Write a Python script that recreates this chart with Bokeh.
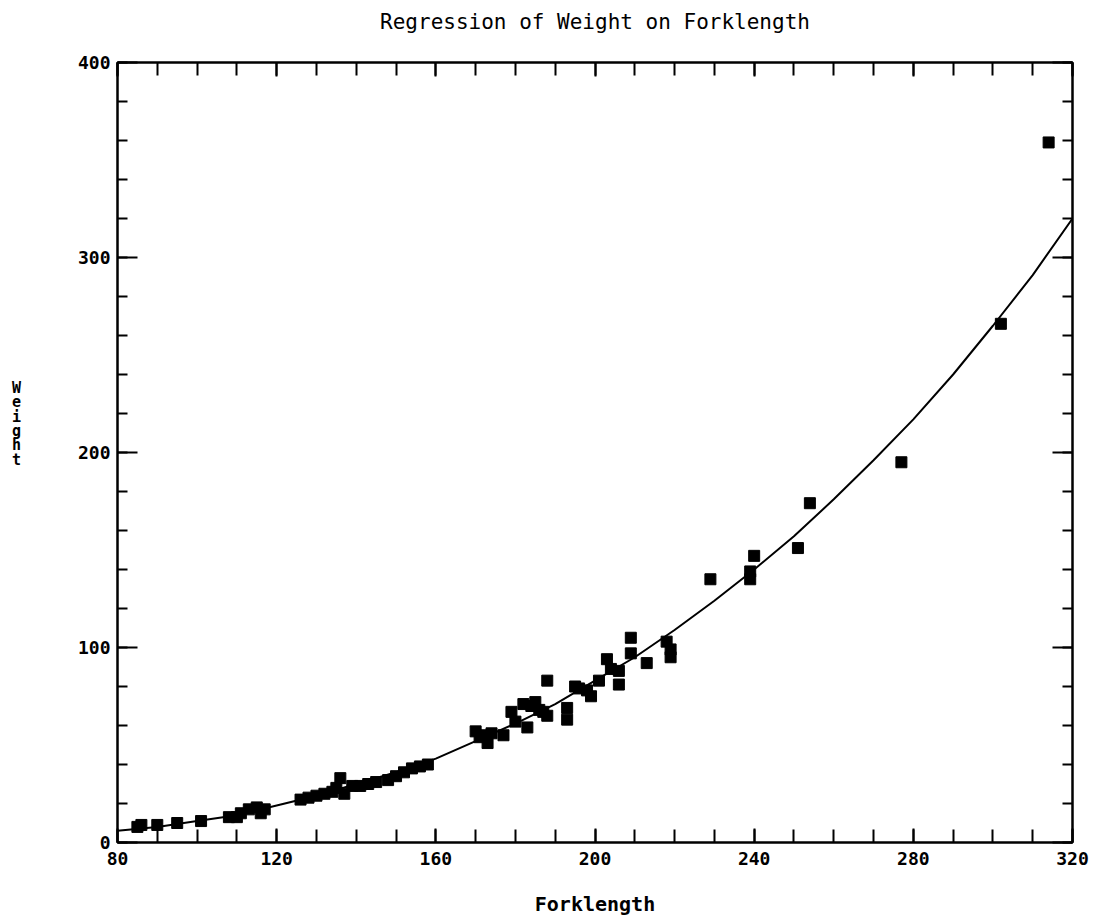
from bokeh.plotting import figure
from bokeh.models import (LinearAxis, Range1d, Title,
                          SingleIntervalTicker, ColumnDataSource)
from bokeh.embed import file_html
from bokeh.resources import INLINE

# ---- data ----
forklength = [85, 86, 90, 95, 101, 108, 110, 111, 113, 115, 116, 117,
              126, 128, 130, 132, 134, 135, 136, 137, 139, 141, 143, 145,
              148, 150, 152, 154, 156, 158,
              170, 171, 172, 173, 174, 177, 179, 180, 183, 182, 184, 185,
              186, 187, 188, 188, 193, 193, 195, 196, 198,
              199, 201, 203, 204, 206, 206, 209, 209, 213, 218, 219, 219,
              229, 239, 239, 240, 251, 254, 277, 302, 314]
weight = [8, 9, 9, 10, 11, 13, 13, 15, 17, 18, 15, 17,
          22, 23, 24, 25, 26, 28, 33, 25, 29, 29, 30, 31,
          32, 34, 36, 38, 39, 40,
          57, 54, 55, 51, 56, 55, 67, 62, 59, 71, 70, 72,
          68, 67, 83, 65, 69, 63, 80, 79, 78,
          75, 83, 94, 89, 88, 81, 105, 97, 92, 103, 99, 95,
          135, 139, 135, 147, 151, 174, 195, 266, 359]

# fitted regression curve
curve_x = [80, 90, 100, 110, 120, 130, 140, 150, 160, 170, 180, 190, 200,
           210, 220, 230, 240, 250, 260, 270, 280, 290, 300, 310, 320]
curve_y = [6, 8, 11, 14, 19, 24, 30, 36, 43, 52, 61, 71, 83,
           95, 109, 124, 140, 157, 176, 196, 217, 240, 265, 291, 320]

x_ticks_interval = 40
y_ticks_interval = 100

title_text = "Regression of Weight on Forklength"
x_label = "Forklength"
y_label = "Weight"

FONT = "DejaVu Sans Mono"

p = figure(width=1095, height=924,
           x_range=Range1d(80, 320), y_range=Range1d(0, 400),
           output_backend="svg", toolbar_location=None,
           min_border_left=117, min_border_right=23,
           min_border_top=62, min_border_bottom=82,
           x_axis_location=None, y_axis_location=None)
p.background_fill_color = "white"
p.border_fill_color = "white"
p.outline_line_color = "black"
p.outline_line_width = 2
p.grid.visible = False

def style_axis(ax, ticker, major_in, minor_in, show_labels):
    ax.ticker = ticker
    ax.axis_line_color = "black"
    ax.axis_line_width = 2
    ax.major_tick_in = major_in
    ax.major_tick_out = 0
    ax.minor_tick_in = minor_in
    ax.minor_tick_out = 0
    ax.major_tick_line_color = "black"
    ax.minor_tick_line_color = "black"
    ax.major_tick_line_width = 2
    ax.minor_tick_line_width = 2
    ax.major_label_text_font = FONT
    ax.major_label_text_font_style = "bold"
    ax.major_label_text_color = "black"
    ax.major_label_text_font_size = "18px"
    ax.axis_label_text_font = FONT
    ax.axis_label_text_color = "black"
    ax.axis_label_text_font_style = "bold"
    if not show_labels:
        ax.major_label_text_color = None
        ax.major_label_text_font_size = "2px"
        ax.major_label_standoff = 0

xb = LinearAxis(axis_label=x_label)
style_axis(xb, SingleIntervalTicker(interval=x_ticks_interval, num_minor_ticks=4), 14, 13, True)
xb.major_label_standoff = 9
xb.axis_label_text_font_size = "20px"
xb.axis_label_standoff = 24
p.add_layout(xb, "below")

# top axis carries the chart title as its label
xt = LinearAxis(axis_label=title_text)
style_axis(xt, SingleIntervalTicker(interval=x_ticks_interval, num_minor_ticks=4), 14, 13, False)
xt.axis_label_text_font_style = "normal"
xt.axis_label_text_font_size = "21px"
xt.axis_label_standoff = 29
p.add_layout(xt, "above")

yl = LinearAxis()
style_axis(yl, SingleIntervalTicker(interval=y_ticks_interval, num_minor_ticks=5), 20, 10, True)
yl.major_label_standoff = 7
p.add_layout(yl, "left")

stacked = False
try:
    yl.axis_label_orientation = "horizontal"
    stacked = True
except Exception:
    stacked = False

if stacked:
    yl.axis_label = "\n".join(y_label) + "\n\n\n\n"
    yl.axis_label_text_font_size = "15px"
    yl.axis_label_text_line_height = 0.8
    yl.axis_label_standoff = 54
else:
    p.add_layout(Title(text=y_label, text_font=FONT, text_font_size="14px",
                       text_font_style="bold", align="center",
                       text_color="black"), "left")

yr = LinearAxis()
style_axis(yr, SingleIntervalTicker(interval=y_ticks_interval, num_minor_ticks=5), 20, 10, False)
p.add_layout(yr, "right")

src = ColumnDataSource(dict(x=forklength, y=weight))
p.line(curve_x, curve_y, line_color="black", line_width=2)
p.scatter("x", "y", source=src, marker="square", size=11,
          fill_color="black", line_color="black")

open("out.html", "w").write(file_html(p, INLINE))
